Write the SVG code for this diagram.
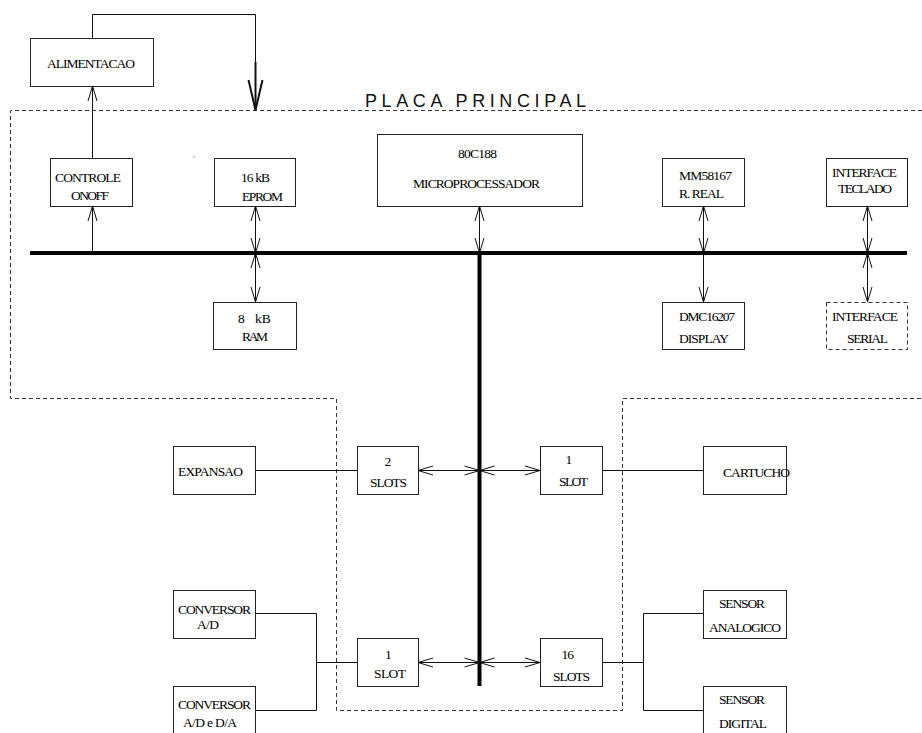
<svg xmlns="http://www.w3.org/2000/svg" width="922" height="733" viewBox="0 0 922 733">
<style>
.box{fill:#fff;stroke:#222;stroke-width:1}
.dbox{fill:#fff;stroke:#333;stroke-width:1;stroke-dasharray:4 3}
.t{font-family:"Liberation Serif","Times New Roman",serif;font-size:13.5px;fill:#000}
.ln{fill:none;stroke:#111;stroke-width:1}
.bus{fill:none;stroke:#000;stroke-width:4}
.dash{fill:none;stroke:#333;stroke-width:1;stroke-dasharray:4 3}
.title{font-family:"Liberation Sans",Arial,sans-serif;font-size:18px;fill:#111}
</style>
<defs>
<marker id="ah" markerUnits="userSpaceOnUse" markerWidth="20" markerHeight="12" viewBox="0 0 20 12" refX="15" refY="6" orient="auto-start-reverse" overflow="visible">
<path d="M0,1.5 L15,6 L0,10.5" fill="none" stroke="#111" stroke-width="1"/>
</marker>
<marker id="big" markerUnits="userSpaceOnUse" markerWidth="34" markerHeight="18" viewBox="0 0 34 18" refX="30" refY="9" orient="auto" overflow="visible">
<path d="M0,2 L30,9 L0,16" fill="none" stroke="#111" stroke-width="2"/>
</marker>
</defs>
<rect width="922" height="733" fill="#fff"/>
<g id="board">
<path class="dash" d="M922,110.5 H10.5 V398.5 H336.5 V710.5 H622.5 V398.5 H922"/>
<text class="title" x="365" y="107" textLength="221">PLACA PRINCIPAL</text>
<circle cx="194" cy="157" r="0.7" fill="#777"/>
</g>
<g id="connectors">
<path class="ln" d="M92.5,38 V14.5 H255.5 V62"/>
<path d="M255.5,62 V110" fill="none" stroke="#111" stroke-width="2" marker-end="url(#big)"/>
<path class="ln" d="M92.5,158 V86" marker-end="url(#ah)"/>
<path class="ln" d="M92.5,253 V206" marker-end="url(#ah)"/>
<path class="ln" d="M255.5,206 V253" marker-start="url(#ah)" marker-end="url(#ah)"/>
<path class="ln" d="M255.5,253 V302" marker-start="url(#ah)" marker-end="url(#ah)"/>
<path class="ln" d="M479.5,206 V253" marker-start="url(#ah)" marker-end="url(#ah)"/>
<path class="ln" d="M703.5,206 V253" marker-start="url(#ah)" marker-end="url(#ah)"/>
<path class="ln" d="M703.5,253 V302" marker-end="url(#ah)"/>
<path class="ln" d="M867.5,206 V253" marker-start="url(#ah)" marker-end="url(#ah)"/>
<path class="ln" d="M867.5,253 V302" marker-start="url(#ah)" marker-end="url(#ah)"/>
<path class="bus" d="M30,253 H907"/>
<path class="bus" d="M479.5,253 V686"/>
<path class="ln" d="M255,470.5 H357"/>
<path class="ln" d="M418,470.5 H479.5" marker-start="url(#ah)" marker-end="url(#ah)"/>
<path class="ln" d="M479.5,470.5 H540" marker-start="url(#ah)" marker-end="url(#ah)"/>
<path class="ln" d="M602,470.5 H703"/>
<path class="ln" d="M255,613.5 H316.5 V710.5 H255 M316.5,662.5 H357"/>
<path class="ln" d="M418,662.5 H479.5" marker-start="url(#ah)" marker-end="url(#ah)"/>
<path class="ln" d="M479.5,662.5 H540" marker-start="url(#ah)" marker-end="url(#ah)"/>
<path class="ln" d="M602,662.5 H643.5 M703,613.5 H643.5 V710.5 H703"/>
</g>
<g id="alimentacao"><rect class="box" x="30.5" y="38.5" width="123" height="48"/><text class="t" x="47" y="68" textLength="88">ALIMENTACAO</text></g>
<g id="controle"><rect class="box" x="50.5" y="158.5" width="82" height="48"/><text class="t" x="55" y="182" textLength="66">CONTROLE</text><text class="t" x="71" y="200" textLength="38">ONOFF</text></g>
<g id="eprom"><rect class="box" x="214.5" y="158.5" width="81" height="48"/><text class="t" x="241" y="181.5" textLength="29">16 kB</text><text class="t" x="242" y="201" textLength="41">EPROM</text></g>
<g id="ram"><rect class="box" x="213.5" y="302.5" width="83" height="47"/><text class="t" x="238" y="323" xml:space="preserve">8   kB</text><text class="t" x="242" y="340.5" textLength="26">RAM</text></g>
<g id="micro"><rect class="box" x="377.5" y="134.5" width="205" height="72"/><text class="t" x="458" y="158" textLength="39">80C188</text><text class="t" x="413" y="188" textLength="127">MICROPROCESSADOR</text></g>
<g id="mm58167"><rect class="box" x="662.5" y="158.5" width="82" height="48"/><text class="t" x="679" y="180" textLength="53">MM58167</text><text class="t" x="679" y="198" textLength="45">R. REAL</text></g>
<g id="dmc"><rect class="box" x="662.5" y="302.5" width="82" height="47"/><text class="t" x="679" y="320.5" textLength="56">DMC16207</text><text class="t" x="679" y="343" textLength="50">DISPLAY</text></g>
<g id="teclado"><rect class="box" x="826.5" y="158.5" width="81" height="48"/><text class="t" x="832" y="176.5" textLength="65">INTERFACE</text><text class="t" x="838" y="193" textLength="54">TECLADO</text></g>
<g id="serial"><rect class="dbox" x="826.5" y="302.5" width="81" height="47"/><text class="t" x="832" y="320.5" textLength="66">INTERFACE</text><text class="t" x="847" y="343" textLength="41">SERIAL</text></g>
<g id="expansao"><rect class="box" x="173.5" y="446.5" width="82" height="48"/><text class="t" x="178" y="476" textLength="65">EXPANSAO</text></g>
<g id="slots2"><rect class="box" x="357.5" y="446.5" width="61" height="48"/><text class="t" x="384.5" y="465.5">2</text><text class="t" x="370" y="486.5" textLength="37">SLOTS</text></g>
<g id="slot1a"><rect class="box" x="540.5" y="446.5" width="62" height="48"/><text class="t" x="565.5" y="464">1</text><text class="t" x="559" y="485.5" textLength="29">SLOT</text></g>
<g id="cartucho"><rect class="box" x="703.5" y="446.5" width="83" height="48"/><text class="t" x="723" y="476.5" textLength="67">CARTUCHO</text></g>
<g id="conv_ad"><rect class="box" x="173.5" y="590.5" width="82" height="48"/><text class="t" x="178" y="614" textLength="73">CONVERSOR</text><text class="t" x="197" y="629" textLength="22">A/D</text></g>
<g id="conv_adda"><rect class="box" x="173.5" y="686.5" width="82" height="60"/><text class="t" x="178" y="709" textLength="73">CONVERSOR</text><text class="t" x="183" y="726.5" textLength="54">A/D e D/A</text></g>
<g id="slot1b"><rect class="box" x="357.5" y="638.5" width="61" height="48"/><text class="t" x="385" y="659">1</text><text class="t" x="374" y="678" textLength="32">SLOT</text></g>
<g id="slots16"><rect class="box" x="540.5" y="638.5" width="62" height="48"/><text class="t" x="561.5" y="659" textLength="12.5">16</text><text class="t" x="553" y="680.5" textLength="37">SLOTS</text></g>
<g id="sensor_analogico"><rect class="box" x="703.5" y="590.5" width="83" height="48"/><text class="t" x="719" y="607.5" textLength="46">SENSOR</text><text class="t" x="709" y="631.5" textLength="72">ANALOGICO</text></g>
<g id="sensor_digital"><rect class="box" x="703.5" y="686.5" width="83" height="60"/><text class="t" x="719" y="704" textLength="46">SENSOR</text><text class="t" x="719" y="727.5" textLength="48">DIGITAL</text></g>
</svg>
